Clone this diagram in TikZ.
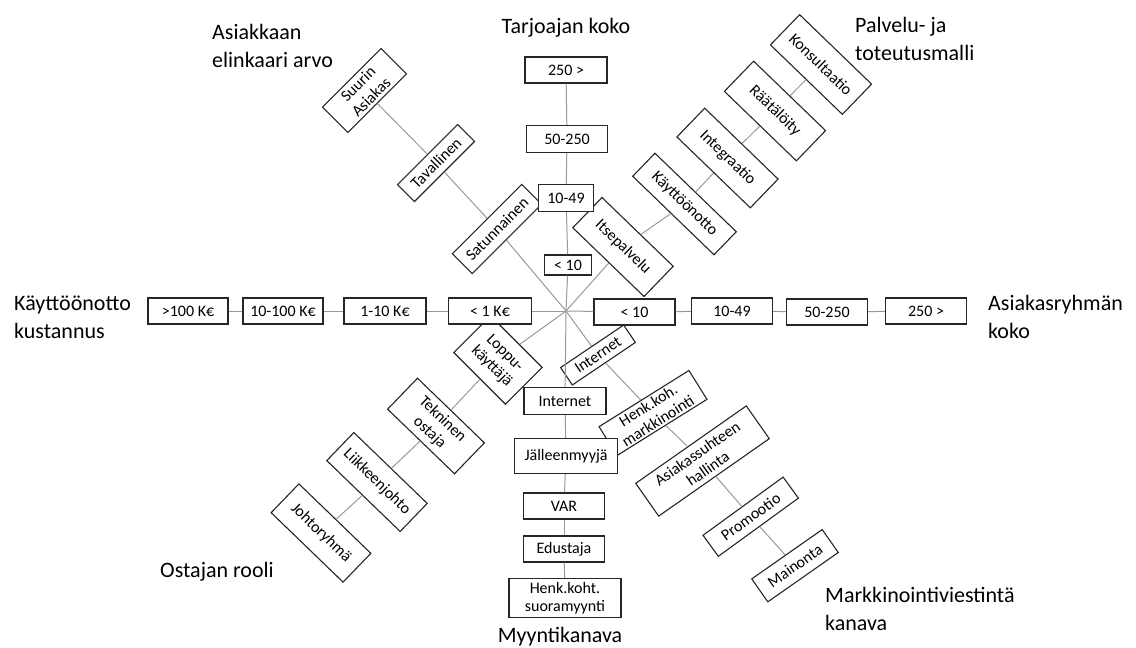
\documentclass[tikz,border=0pt]{standalone}
\usepackage{fontspec}
\setmainfont{Carlito}
\usetikzlibrary{positioning}
\newcommand{\boxfont}{\fontsize{16}{18.5}\selectfont}
\newcommand{\titlefont}{\fontsize{22}{28}\selectfont}
\begin{document}
\begin{tikzpicture}
                    [x=1pt, y=-1pt]
                    \tikzset{box/.style = {draw=black!85, line width=1.1pt, fill=white, align=center, inner sep=1pt, font=\boxfont},
                             axbox/.style = {box, minimum width=81pt, minimum height=26pt},
                             edge/.style = {draw=black!40, line width=1pt},
                             title/.style = {font=\titlefont, align=left, inner sep=0pt}}
                    \useasboundingbox (0,0) rectangle (1136,648);
                    \coordinate (c) at (566,311);

                    \node[box, rotate=45, minimum width=98pt, minimum height=28pt] (ea1) at (497,229) {Satunnainen};
                    \node[box, rotate=45, minimum width=85pt, minimum height=24pt] (ea2) at (436,163) {Tavallinen};
                    \node[box, rotate=45, minimum width=83pt, minimum height=36pt] (ea3) at (364.5,90.5) {Suurin\\Asiakas};

                    \node[box, rotate=-44, minimum width=99pt, minimum height=42pt] (pt1) at (623,247) {Itsepalvelu};
                    \node[box, rotate=-44, minimum width=113pt, minimum height=32pt] (pt2) at (684.5,204) {Käyttöönotto};
                    \node[box, rotate=-44, minimum width=102pt, minimum height=40pt] (pt3) at (727.5,158) {Integraatio};
                    \node[box, rotate=-44, minimum width=100pt, minimum height=42pt] (pt4) at (775,111) {Räätälöity};
                    \node[box, rotate=-44, minimum width=100pt, minimum height=42pt] (pt5) at (821,64.5) {Konsultaatio};

                    \node[box, rotate=-45, minimum width=73pt, minimum height=52pt] (or1) at (498,360) {Loppu-\\käyttäjä};
                    \node[box, rotate=-44, minimum width=93pt, minimum height=43pt] (or2) at (436,426) {Tekninen\\ostaja};
                    \node[box, rotate=-44, minimum width=102pt, minimum height=39pt] (or3) at (377,482) {Liikkeenjohto};
                    \node[box, rotate=-44, minimum width=100pt, minimum height=40pt] (or4) at (321,533) {Johtoryhmä};

                    \node[box, rotate=34, minimum width=76pt, minimum height=21pt] (mv1) at (598,355) {Internet};
                    \node[box, rotate=32, minimum width=106pt, minimum height=34pt] (mv2) at (653,413) {Henk.koh.\\markkinointi};
                    \node[box, rotate=35, minimum width=135pt, minimum height=40pt] (mv3) at (702.5,461) {Asiakassuhteen\\hallinta};
                    \node[box, rotate=36, minimum width=99pt, minimum height=26pt] (mv4) at (750.7,516.7) {Promootio};
                    \node[box, rotate=35, minimum width=86pt, minimum height=28pt] (mv5) at (795,565.7) {Mainonta};

                    \node[axbox, minimum width=82pt] (tk4) at (566,70)  {250 >};
                    \node[axbox, minimum height=27pt] (tk3) at (567,139) {50-250};
                    \node[axbox, minimum width=55pt, minimum height=27pt] (tk2) at (566,198) {10-49};
                    \node[axbox, minimum width=47pt, minimum height=20pt] (tk1) at (568,265) {< 10};

                    \node[axbox, minimum width=82pt, minimum height=27pt] (mk1) at (565,401) {Internet};
                    \node[axbox, minimum width=103pt, minimum height=35pt] (mk2) at (566,456) {Jälleenmyyjä};
                    \node[axbox] (mk3) at (564,506) {VAR};
                    \node[axbox] (mk4) at (564,549) {Edustaja};
                    \node[axbox, minimum width=112pt, minimum height=39pt] (mk5) at (565,598) {Henk.koht.\\suoramyynti};

                    \node[axbox, minimum width=83pt] (kk1) at (490,311) {< 1 K€};
                    \node[axbox, minimum width=82pt] (kk2) at (385,311) {1-10 K€};
                    \node[axbox, minimum width=80pt] (kk3) at (283,311) {10-100 K€};
                    \node[axbox, minimum width=80pt] (kk4) at (188,311) {>100 K€};

                    \node[axbox] (ar1) at (634.5,312) {< 10};
                    \node[axbox] (ar2) at (732,311) {10-49};
                    \node[axbox] (ar3) at (827,312) {50-250};
                    \node[axbox] (ar4) at (926,311) {250 >};

                    \node[title, anchor=base west] (t1) at (212,67)  {Asiakkaan\\elinkaari arvo};
                    \node[title, anchor=base]      (t2) at (566,33)  {Tarjoajan koko};
                    \node[title, anchor=base west] (t3) at (855,60)  {Palvelu- ja\\toteutusmalli};
                    \node[title, anchor=base west] (t4) at (14,338)  {Käyttöönotto\\kustannus};
                    \node[title, anchor=base west] (t5) at (988,338) {Asiakasryhmän\\koko};
                    \node[title, anchor=base west] (t6) at (160,577) {Ostajan rooli};
                    \node[title, anchor=base]      (t7) at (560,642) {Myyntikanava};
                    \node[title, anchor=base west] (t8) at (825,630) {Markkinointiviestintä\\kanava};

                    \foreach \from/\to in {c/tk1,tk1/tk2,tk2/tk3,tk3/tk4,c/mk1,mk1/mk2,mk2/mk3,mk3/mk4,mk4/mk5,
                                           c/kk1,kk1/kk2,kk2/kk3,kk3/kk4,c/ar1,ar1/ar2,ar2/ar3,ar3/ar4,
                                           c/ea1,ea1/ea2,ea2/ea3,c/pt1,pt1/pt2,pt2/pt3,pt3/pt4,pt4/pt5,
                                           c/or1,or1/or2,or2/or3,or3/or4,c/mv1,mv1/mv2,mv2/mv3,mv3/mv4,mv4/mv5}
                        \draw[edge] (\from) to (\to);
                \end{tikzpicture}
\end{document}
